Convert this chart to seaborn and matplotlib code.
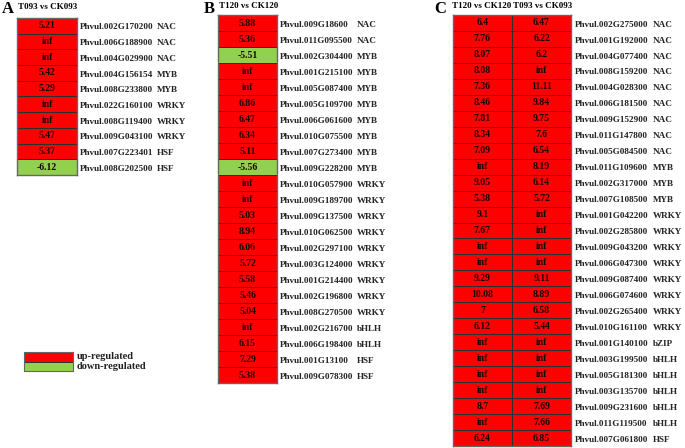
import numpy as np
import matplotlib
matplotlib.use("Agg")
import matplotlib.pyplot as plt
import matplotlib.transforms as mtransforms
from matplotlib.colors import ListedColormap
import seaborn as sns

plt.rcParams['font.family'] = ['Liberation Serif', 'DejaVu Serif']

inf = np.inf

# Panel A: T093 vs CK093
a_genes = ["Phvul.002G170200", "Phvul.006G188900", "Phvul.004G029900", "Phvul.004G156154",
           "Phvul.008G233800", "Phvul.022G160100", "Phvul.008G119400", "Phvul.009G043100",
           "Phvul.007G223401", "Phvul.008G202500"]
a_family = ["NAC", "NAC", "NAC", "MYB", "MYB", "WRKY", "WRKY", "WRKY", "HSF", "HSF"]
a_t093 = [5.21, inf, inf, 5.42, 5.29, inf, inf, 5.47, 5.37, -6.12]

# Panel B: T120 vs CK120
b_genes = ["Phvul.009G18600", "Phvul.011G095500", "Phvul.002G304400", "Phvul.001G215100",
           "Phvul.005G087400", "Phvul.005G109700", "Phvul.006G061600", "Phvul.010G075500",
           "Phvul.007G273400", "Phvul.009G228200", "Phvul.010G057900", "Phvul.009G189700",
           "Phvul.009G137500", "Phvul.010G062500", "Phvul.002G297100", "Phvul.003G124000",
           "Phvul.001G214400", "Phvul.002G196800", "Phvul.008G270500", "Phvul.002G216700",
           "Phvul.006G198400", "Phvul.001G13100", "Phvul.009G078300"]
b_family = ["NAC", "NAC", "MYB", "MYB", "MYB", "MYB", "MYB", "MYB", "MYB", "MYB",
            "WRKY", "WRKY", "WRKY", "WRKY", "WRKY", "WRKY", "WRKY", "WRKY", "WRKY",
            "bHLH", "bHLH", "HSF", "HSF"]
b_t120 = [5.88, 5.36, -5.51, inf, inf, 6.86, 6.47, 6.34, 5.11, -5.56, inf, inf,
          5.03, 8.94, 6.06, 5.72, 5.58, 5.46, 5.04, inf, 6.15, 7.29, 5.38]

# Panel C: shared genes
c_genes = ["Phvul.002G275000", "Phvul.001G192000", "Phvul.004G077400", "Phvul.008G159200",
           "Phvul.004G028300", "Phvul.006G181500", "Phvul.009G152900", "Phvul.011G147800",
           "Phvul.005G084500", "Phvul.011G109600", "Phvul.002G317000", "Phvul.007G108500",
           "Phvul.001G042200", "Phvul.002G285800", "Phvul.009G043200", "Phvul.006G047300",
           "Phvul.009G087400", "Phvul.006G074600", "Phvul.002G265400", "Phvul.010G161100",
           "Phvul.001G140100", "Phvul.003G199500", "Phvul.005G181300", "Phvul.003G135700",
           "Phvul.009G231600", "Phvul.011G119500", "Phvul.007G061800"]
c_family = ["NAC"] * 9 + ["MYB"] * 3 + ["WRKY"] * 8 + ["bZIP"] + ["bHLH"] * 5 + ["HSF"]
c_t120 = [6.4, 7.76, 8.07, 8.08, 7.36, 8.46, 7.81, 8.34, 7.09, inf, 9.05, 5.38, 9.1, 7.67,
          inf, inf, 9.29, 10.08, 7, 6.12, inf, inf, inf, inf, 8.7, inf, 6.24]
c_t093 = [6.47, 6.22, 6.2, inf, 11.11, 9.84, 9.75, 7.6, 6.54, 8.19, 6.14, 5.72, inf, inf,
          inf, inf, 9.11, 8.89, 6.58, 5.44, inf, inf, inf, inf, 7.69, 7.66, 6.85]

RED = "#ff0000"
GREEN = "#92d050"
cmap = ListedColormap([GREEN, RED])

W, H = 685, 448
fig = plt.figure(figsize=(W / 100, H / 100), dpi=100)


def px_axes(x0, y0, x1, y1):
    return fig.add_axes([x0 / W, 1 - y1 / H, (x1 - x0) / W, (y1 - y0) / H])


def fmt(v):
    return "inf" if np.isinf(v) else f"{v:g}"


def draw_panel(x0, y0, x1, y1, cols, genes, family, gene_x, fam_x):
    vals = np.array(cols, dtype=float).T
    up = (vals > 0).astype(int)
    labels = np.vectorize(fmt)(vals)
    ax = px_axes(x0, y0, x1, y1)
    sns.heatmap(up, ax=ax, cmap=cmap, vmin=0, vmax=1, cbar=False,
                annot=labels, fmt="", linewidths=0.7, linecolor="#2e2e2e",
                annot_kws={"fontsize": 7, "fontweight": "bold", "color": "#1a0000"})
    ax.set_xticks([])
    ax.set_yticks([])
    for s in ax.spines.values():
        s.set_visible(True)
        s.set_color("#666666")
        s.set_linewidth(1.0)
    tr = mtransforms.blended_transform_factory(fig.transFigure, ax.transData)
    for i, (g, f) in enumerate(zip(genes, family)):
        ax.text(gene_x / W, i + 0.6, g, transform=tr, fontsize=6.6, fontweight="bold",
                color="#222222", va="center", ha="left")
        ax.text(fam_x / W, i + 0.6, f, transform=tr, fontsize=6.6, fontweight="bold",
                color="#222222", va="center", ha="left")
    return ax


draw_panel(17, 18, 77, 175, [a_t093], a_genes, a_family, 80, 157)
draw_panel(218, 15, 277, 383, [b_t120], b_genes, b_family, 280, 357)
draw_panel(453, 15, 571, 446, [c_t120, c_t093], c_genes, c_family, 575, 653)

# panel letters and titles
fig.text(2 / W, 1 - 9 / H, "A", fontsize=12, fontweight="bold", va="center")
fig.text(18 / W, 1 - 7 / H, "T093 vs CK093", fontsize=6.5, fontweight="bold", va="center")
fig.text(204 / W, 1 - 9 / H, "B", fontsize=12, fontweight="bold", va="center")
fig.text(219 / W, 1 - 6 / H, "T120 vs CK120", fontsize=6.5, fontweight="bold", va="center")
fig.text(434 / W, 1 - 9 / H, "C", fontsize=12, fontweight="bold", va="center")
fig.text(482 / W, 1 - 6 / H, "T120 vs CK120", fontsize=6.5, fontweight="bold", va="center", ha="center")
fig.text(543 / W, 1 - 6 / H, "T093 vs CK093", fontsize=6.5, fontweight="bold", va="center", ha="center")

# legend
lax = px_axes(24, 352, 73, 371)
sns.heatmap(np.array([[1], [0]]), ax=lax, cmap=cmap, vmin=0, vmax=1, cbar=False,
            linewidths=0.7, linecolor="#333333")
lax.set_xticks([])
lax.set_yticks([])
for s in lax.spines.values():
    s.set_visible(True)
    s.set_color("#666666")
ltr = mtransforms.blended_transform_factory(fig.transFigure, lax.transData)
for i, t in enumerate(["up-regulated", "down-regulated"]):
    lax.text(77 / W, i + 0.5, t, transform=ltr, fontsize=7.5, fontweight="bold",
             color="#222222", va="center", ha="left")

fig.savefig("out.png", dpi=100)
